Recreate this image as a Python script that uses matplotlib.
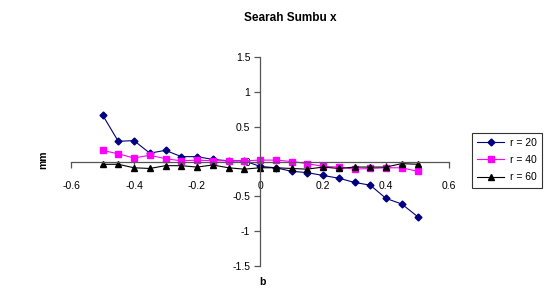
import matplotlib.pyplot as plt
import numpy as np

plt.rcParams['font.family'] = ['Liberation Sans', 'DejaVu Sans']

# b positions
b = [-0.5, -0.45, -0.4, -0.35, -0.3, -0.25, -0.2, -0.15, -0.1, -0.05, 0.0,
     0.05, 0.1, 0.15, 0.2, 0.25, 0.3, 0.35, 0.4, 0.45, 0.5]

r20 = [0.67, 0.29, 0.30, 0.12, 0.16, 0.07, 0.07, 0.03, 0.01, 0.01, -0.07,
       -0.09, -0.14, -0.16, -0.20, -0.24, -0.30, -0.34, -0.53, -0.61, -0.79]
r40 = [0.16, 0.11, 0.05, 0.09, 0.04, 0.01, 0.02, 0.01, 0.01, 0.01, 0.02,
       0.02, 0.00, -0.03, -0.07, -0.08, -0.11, -0.10, -0.09, -0.09, -0.14]
r60 = [-0.04, -0.04, -0.09, -0.10, -0.06, -0.06, -0.08, -0.05, -0.09, -0.11, -0.09,
       -0.09, -0.10, -0.11, -0.08, -0.10, -0.08, -0.08, -0.08, -0.03, -0.04]

fig = plt.figure(figsize=(5.55, 2.98), dpi=100)
ax = fig.add_axes([71/555, 1-266/298, 378/555, 209/298])

ax.plot(b, r20, color='#000080', marker='D', markersize=3.5, lw=0.8, label='r = 20')
ax.plot(b, r40, color='#FF00FF', marker='s', markersize=4.5, lw=0.8, label='r = 40')
ax.plot(b, r60, color='black', marker='^', markersize=4.5, lw=0.8, label='r = 60')

ax.set_xlim(-0.6, 0.6)
ax.set_ylim(-1.5, 1.5)
ax.set_xticks(np.arange(-0.6, 0.61, 0.2))
ax.set_xticklabels(['-0.6', '-0.4', '-0.2', '0', '0.2', '0.4', '0.6'])
ax.set_yticks([-1.5, -1, -0.5, 0, 0.5, 1, 1.5])
ax.set_yticklabels(['-1.5', '-1', '-0.5', '0', '0.5', '1', '1.5'])

ax.spines['left'].set_position('zero')
ax.spines['bottom'].set_position('zero')
ax.spines['top'].set_visible(False)
ax.spines['right'].set_visible(False)
for s in ['left', 'bottom']:
    ax.spines[s].set_color('#555555')
    ax.spines[s].set_linewidth(0.9)
ax.tick_params(axis='both', labelsize=7.5, length=4, width=0.9, color='#555555', direction='out')
ax.tick_params(axis='x', pad=10)
ax.tick_params(axis='y', pad=3)

fig.text(290/555, 1-18/298, 'Searah Sumbu x', ha='center', va='center',
         fontsize=8.5, fontweight='bold')
fig.text(43/555, 1-160/298, 'mm', ha='center', va='center', rotation=90,
         fontsize=7.5, fontweight='bold')
fig.text(262/555, 1-282/298, 'b', ha='center', va='center',
         fontsize=7.5, fontweight='bold')

leg = fig.legend(loc='center', bbox_to_anchor=(507/555, 1-160/298), fontsize=7.5,
                 frameon=True, fancybox=False, edgecolor='black', handlelength=2.6,
                 borderpad=0.5, labelspacing=0.7, handletextpad=0.5, borderaxespad=0)
leg.get_frame().set_linewidth(0.8)

fig.savefig('out.png', dpi=100)
